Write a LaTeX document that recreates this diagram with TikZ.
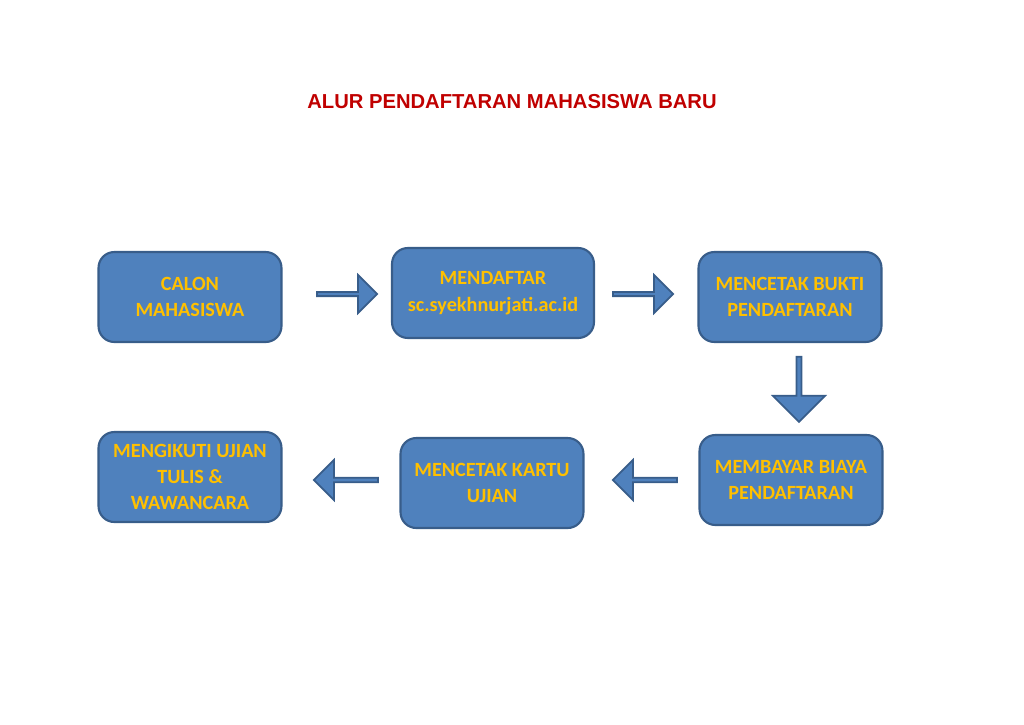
\documentclass[tikz,border=0pt]{standalone}
\usepackage{fontspec}
\setmainfont{Carlito}
\newfontfamily\titlefont{Liberation Sans}
\usetikzlibrary{shapes.arrows}
\definecolor{boxblue}{HTML}{4F81BD}
\definecolor{boxline}{HTML}{385D8A}
\definecolor{boxtext}{HTML}{FFC000}
\definecolor{titlered}{HTML}{C00000}
\begin{document}
\begin{tikzpicture}[x=0.02cm,y=-0.02cm,
    langkah/.style={draw=boxline,line width=1.2pt,fill=boxblue,rounded corners=9pt,
      minimum width=3.66cm,minimum height=1.8cm,align=center,
      text=boxtext,font=\bfseries\fontsize{11.5}{15}\selectfont},
    flow/.style={single arrow,draw=boxline,line width=1pt,fill=boxblue,
      minimum height=1.2cm,minimum width=0.76cm,single arrow head extend=0.14cm,inner sep=0pt}]
  \useasboundingbox (0,0) rectangle (1024,724);
  \node[text=titlered,font=\titlefont\bfseries\fontsize{11.5}{14}\selectfont] (title) at (512,102) {ALUR PENDAFTARAN MAHASISWA BARU};
  % langkah
  \node[langkah] (calon) at (190,297) {CALON\\MAHASISWA};
  \node[langkah,minimum width=4.04cm] (daftar) at (493,293) {MENDAFTAR\\sc.syekhnurjati.ac.id};
  \node[langkah] (bukti) at (790,297) {MENCETAK BUKTI\\PENDAFTARAN};
  \node[langkah] (bayar) at (791,480) {MEMBAYAR BIAYA\\PENDAFTARAN};
  \node[langkah] (kartu) at (492,483) {MENCETAK KARTU\\UJIAN};
  \node[langkah] (ujian) at (190,477) {MENGIKUTI UJIAN\\TULIS \&\\WAWANCARA};
  % panah
  \node[flow] (a1) at (346,294) {};
  \node[flow] (a2) at (642,294) {};
  \node[flow,shape border rotate=270,minimum height=1.3cm,minimum width=1.04cm,single arrow head extend=0.16cm] (a3) at (799,388) {};
  \node[flow,shape border rotate=180,minimum height=1.28cm,minimum width=0.8cm] (a4) at (646,480) {};
  \node[flow,shape border rotate=180,minimum height=1.28cm,minimum width=0.8cm] (a5) at (347,480) {};
\end{tikzpicture}
\end{document}
